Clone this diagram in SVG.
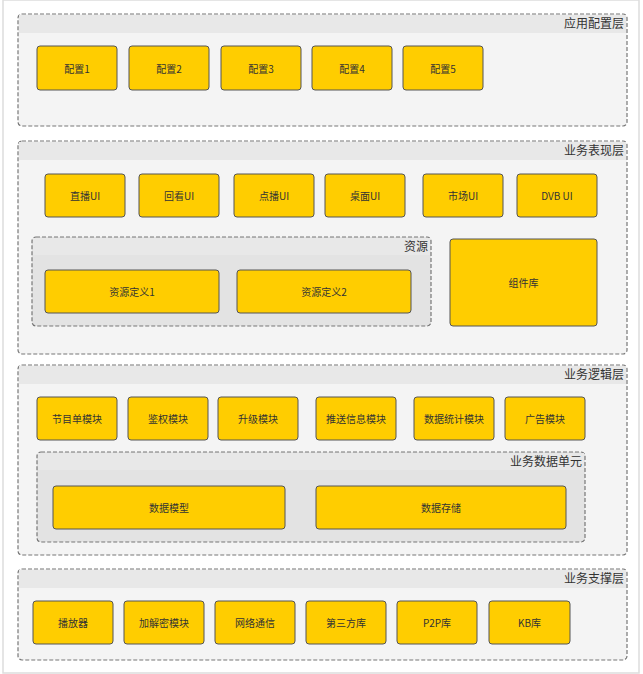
<svg xmlns="http://www.w3.org/2000/svg" width="643" height="674" viewBox="0 0 643 674">
<style>
.lay{fill:#f4f4f4;stroke:#777;stroke-width:1.2;stroke-dasharray:4 2}
.band{fill:#e8e8e8}
.grp{fill:#e3e3e3;stroke:#777;stroke-width:1.2;stroke-dasharray:4 2}
.n rect{fill:#ffcd00;stroke:#555;stroke-width:1}
.n text{font-family:"Noto Sans CJK SC","Liberation Sans",sans-serif;font-size:10px;fill:#333;text-anchor:middle;dominant-baseline:central}
.t{font-family:"Noto Sans CJK SC","Liberation Sans",sans-serif;font-size:12px;fill:#333;text-anchor:end}
</style>
<rect x="0" y="0" width="643" height="674" fill="#fff"/>
<rect x="3" y="0" width="636" height="673" fill="none" stroke="#ddd" stroke-width="1.5"/>
<g id="layer1"><rect class="lay" x="18" y="14" width="609" height="112" rx="4"/><rect class="band" x="19" y="15" width="607" height="18"/><text class="t" x="624" y="28">应用配置层</text></g>
<g id="layer2"><rect class="lay" x="18" y="141" width="609" height="213" rx="4"/><rect class="band" x="19" y="142" width="607" height="18"/><text class="t" x="624" y="155">业务表现层</text></g>
<g id="res"><rect class="grp" x="32" y="237" width="399" height="89" rx="4"/><rect x="33" y="238" width="397" height="17" fill="#e8e8e8"/><text class="t" x="428" y="251">资源</text></g>
<g id="layer3"><rect class="lay" x="18" y="365" width="609" height="190" rx="4"/><rect class="band" x="19" y="366" width="607" height="18"/><text class="t" x="624" y="379">业务逻辑层</text></g>
<g id="dataunit"><rect class="grp" x="37" y="452" width="548" height="90" rx="4"/><rect x="38" y="453" width="546" height="17" fill="#e8e8e8"/><text class="t" x="582" y="466">业务数据单元</text></g>
<g id="layer4"><rect class="lay" x="18" y="569" width="609" height="91" rx="4"/><rect class="band" x="19" y="570" width="607" height="18"/><text class="t" x="624" y="583">业务支撑层</text></g>
<g id="connectors"></g>
<g id="c1" class="n"><rect x="37" y="46" width="80" height="44" rx="3"/><text x="77" y="68">配置1</text></g>
<g id="c2" class="n"><rect x="129" y="46" width="80" height="44" rx="3"/><text x="169" y="68">配置2</text></g>
<g id="c3" class="n"><rect x="221" y="46" width="80" height="44" rx="3"/><text x="261" y="68">配置3</text></g>
<g id="c4" class="n"><rect x="312" y="46" width="80" height="44" rx="3"/><text x="352" y="68">配置4</text></g>
<g id="c5" class="n"><rect x="403" y="46" width="80" height="44" rx="3"/><text x="443" y="68">配置5</text></g>
<g id="u1" class="n"><rect x="45" y="174" width="80" height="43" rx="3"/><text x="85" y="195.5">直播UI</text></g>
<g id="u2" class="n"><rect x="139" y="174" width="80" height="43" rx="3"/><text x="179" y="195.5">回看UI</text></g>
<g id="u3" class="n"><rect x="234" y="174" width="80" height="43" rx="3"/><text x="274" y="195.5">点播UI</text></g>
<g id="u4" class="n"><rect x="325" y="174" width="80" height="43" rx="3"/><text x="365" y="195.5">桌面UI</text></g>
<g id="u5" class="n"><rect x="423" y="174" width="80" height="43" rx="3"/><text x="463" y="195.5">市场UI</text></g>
<g id="u6" class="n"><rect x="517" y="174" width="80" height="43" rx="3"/><text x="557" y="195.5">DVB UI</text></g>
<g id="r1" class="n"><rect x="45" y="270" width="174" height="43" rx="3"/><text x="132" y="291.5">资源定义1</text></g>
<g id="r2" class="n"><rect x="237" y="270" width="174" height="43" rx="3"/><text x="324" y="291.5">资源定义2</text></g>
<g id="lib" class="n"><rect x="450" y="239" width="147" height="87" rx="3"/><text x="523.5" y="282.5">组件库</text></g>
<g id="m1" class="n"><rect x="37" y="397" width="80" height="43" rx="3"/><text x="77" y="418.5">节目单模块</text></g>
<g id="m2" class="n"><rect x="128" y="397" width="80" height="43" rx="3"/><text x="168" y="418.5">鉴权模块</text></g>
<g id="m3" class="n"><rect x="218" y="397" width="80" height="43" rx="3"/><text x="258" y="418.5">升级模块</text></g>
<g id="m4" class="n"><rect x="316" y="397" width="80" height="43" rx="3"/><text x="356" y="418.5">推送信息模块</text></g>
<g id="m5" class="n"><rect x="414" y="397" width="80" height="43" rx="3"/><text x="454" y="418.5">数据统计模块</text></g>
<g id="m6" class="n"><rect x="505" y="397" width="80" height="43" rx="3"/><text x="545" y="418.5">广告模块</text></g>
<g id="d1" class="n"><rect x="53" y="486" width="232" height="43" rx="3"/><text x="169" y="507.5">数据模型</text></g>
<g id="d2" class="n"><rect x="316" y="486" width="250" height="43" rx="3"/><text x="441" y="507.5">数据存储</text></g>
<g id="s1" class="n"><rect x="33" y="601" width="80" height="43" rx="3"/><text x="73" y="622.5">播放器</text></g>
<g id="s2" class="n"><rect x="124" y="601" width="80" height="43" rx="3"/><text x="164" y="622.5">加解密模块</text></g>
<g id="s3" class="n"><rect x="215" y="601" width="80" height="43" rx="3"/><text x="255" y="622.5">网络通信</text></g>
<g id="s4" class="n"><rect x="306" y="601" width="80" height="43" rx="3"/><text x="346" y="622.5">第三方库</text></g>
<g id="s5" class="n"><rect x="397" y="601" width="80" height="43" rx="3"/><text x="437" y="622.5">P2P库</text></g>
<g id="s6" class="n"><rect x="489" y="601" width="81" height="43" rx="3"/><text x="529.5" y="622.5">KB库</text></g>
</svg>
